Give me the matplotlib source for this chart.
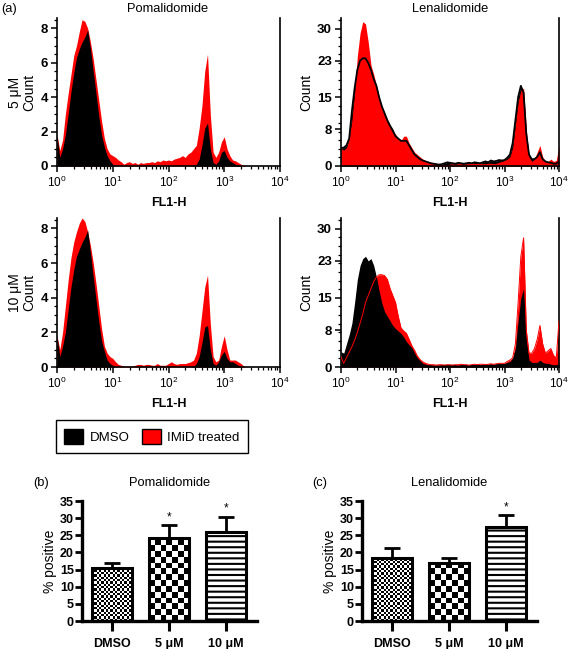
import numpy as np
import matplotlib
matplotlib.use("Agg")
import matplotlib.pyplot as plt
from matplotlib.patches import Patch
from matplotlib.ticker import LogLocator, NullFormatter, MultipleLocator, FixedLocator

plt.rcParams['font.family'] = ['Liberation Sans', 'DejaVu Sans']
plt.rcParams['hatch.linewidth'] = 1.5

# FL1-H channel positions (log10 decades 0..4)
channels = np.linspace(0, 4, 81)
fl1 = 10 ** channels

# histogram counts
poma_5_imid = [1.8, 0.9, 1.5, 3.0, 4.2, 5.3, 6.4, 7.0, 7.8, 8.5,
               8.4, 8.0, 7.2, 6.2, 5.0, 3.8, 2.6, 1.6, 1.0, 0.7,
               0.6, 0.5, 0.35, 0.25, 0.1, 0.2, 0.25, 0.15, 0.2, 0.1,
               0.2, 0.15, 0.2, 0.2, 0.25, 0.2, 0.3, 0.25, 0.35, 0.3,
               0.35, 0.3, 0.4, 0.45, 0.5, 0.6, 0.5, 0.7, 0.8, 1.0,
               1.2, 2.2, 3.5, 5.5, 6.5, 3.0, 0.8, 0.5, 0.8, 1.4,
               1.7, 1.0, 0.6, 0.35, 0.3, 0.2, 0.1, 0.05, 0, 0,
               0, 0, 0, 0, 0, 0, 0, 0, 0, 0,
               0]
poma_5_dmso = [1.8, 0.5, 1.0, 1.8, 3.0, 4.3, 5.4, 6.3, 6.8, 7.2,
               7.5, 7.9, 6.8, 5.5, 4.2, 2.9, 1.8, 1.1, 0.6, 0.3,
               0.1, 0, 0, 0, 0, 0, 0, 0, 0, 0,
               0, 0, 0, 0, 0, 0, 0, 0, 0, 0,
               0, 0, 0, 0, 0, 0, 0, 0, 0, 0.05,
               0.1, 0.4, 1.2, 2.2, 2.5, 1.0, 0.2, 0.1, 0.3, 0.8,
               0.9, 0.5, 0.3, 0.2, 0.1, 0.05, 0, 0, 0, 0,
               0, 0, 0, 0, 0, 0, 0, 0, 0, 0,
               0]
poma_10_imid = [1.8, 1.0, 2.0, 3.5, 5.0, 6.3, 7.2, 7.8, 8.3, 8.6,
                8.4, 7.8, 7.0, 6.0, 4.8, 3.5, 2.2, 1.2, 0.8, 0.6,
                0.5, 0.3, 0.15, 0.1, 0.05, 0.05, 0.05, 0.05, 0.1, 0.15,
                0.15, 0.1, 0.15, 0.15, 0.1, 0.1, 0.2, 0.1, 0.1, 0.1,
                0.2, 0.3, 0.2, 0.15, 0.2, 0.2, 0.2, 0.25, 0.3, 0.4,
                0.8, 1.8, 3.2, 4.6, 5.3, 2.5, 0.6, 0.3, 0.4, 1.2,
                1.8, 1.0, 0.4, 0.4, 0.4, 0.3, 0.2, 0.05, 0, 0,
                0, 0, 0, 0, 0, 0, 0, 0, 0, 0,
                0]
poma_10_dmso = [1.8, 0.6, 1.2, 2.0, 3.3, 4.6, 5.6, 6.4, 6.8, 7.2,
                7.5, 7.9, 6.6, 5.2, 3.9, 2.6, 1.5, 0.9, 0.4, 0.2,
                0.1, 0, 0, 0, 0, 0, 0, 0, 0, 0,
                0, 0, 0, 0, 0, 0, 0, 0, 0, 0,
                0, 0, 0, 0, 0, 0, 0, 0, 0, 0.05,
                0.2, 0.6, 1.4, 2.3, 2.4, 1.0, 0.2, 0.1, 0.3, 0.7,
                0.9, 0.5, 0.3, 0.3, 0.2, 0.1, 0, 0, 0, 0,
                0, 0, 0, 0, 0, 0, 0, 0, 0, 0,
                0]
lena_5_imid = [3.8, 3.5, 4.0, 6.0, 10, 16, 24, 29, 31.5, 31,
               27, 22, 20, 17.5, 15, 13, 11, 9.5, 8.3, 7.3,
               7.0, 6.0, 5.5, 6.5, 6.5, 5.0, 4.0, 3.0, 2.5, 2.0,
               1.5, 1.2, 1.0, 0.8, 0.5, 0.3, 0.2, 0.3, 0.3, 0.2,
               0.4, 0.5, 0.4, 0.5, 0.5, 0.4, 0.5, 0.5, 0.6, 0.5,
               0.6, 0.6, 0.5, 0.5, 0.6, 0.6, 0.5, 0.6, 0.8, 1.0,
               1.2, 1.5, 2.0, 4.0, 9.0, 14, 16.5, 17, 8.0, 2.0,
               1.0, 1.5, 3.0, 4.5, 2.0, 1.0, 1.0, 1.5, 1.0, 1.2,
               4.5]
lena_5_dmso = [4.0, 4.0, 4.5, 6.0, 12, 17, 21, 23, 23.5, 23.5,
               22.5, 21, 19, 17.5, 15, 13, 11.5, 10, 8.8, 7.8,
               6.5, 6, 5.5, 5.5, 5.5, 4.5, 3.5, 2.5, 2.0, 1.5,
               1.2, 1.0, 0.8, 0.6, 0.5, 0.4, 0.3, 0.4, 0.6, 0.8,
               0.7, 0.6, 0.5, 0.7, 0.6, 0.5, 0.6, 0.7, 0.6, 0.8,
               0.7, 0.6, 0.8, 1.0, 0.8, 1.2, 1.0, 1.1, 1.3, 1.2,
               1.3, 1.8, 2.5, 5, 10, 15, 17.5, 16, 7, 2.5,
               1.5, 1.5, 2, 3, 1.5, 1, 0.8, 0.7, 0.5, 0.5,
               1]
lena_10_imid = [2.2, 0.8, 2.0, 3.2, 4.4, 5.8, 7.5, 9.5, 11.5, 14,
                15.5, 17, 18.5, 19.5, 20, 20, 19.8, 19, 17, 15.5,
                14, 11, 8.5, 7.8, 7.3, 6, 4.6, 3.6, 2.4, 1.6,
                1.1, 0.8, 0.6, 0.5, 0.5, 0.4, 0.5, 0.5, 0.4, 0.5,
                0.5, 0.4, 0.5, 0.5, 0.6, 0.5, 0.5, 0.4, 0.5, 0.6,
                0.5, 0.6, 0.6, 0.5, 0.6, 0.7, 0.6, 0.7, 0.8, 0.8,
                0.8, 1.2, 1.5, 2, 5, 14, 24, 28, 8, 3,
                3, 4, 6, 9, 5, 3, 3.5, 4, 2.5, 2,
                10]
lena_10_dmso = [3.3, 3.0, 5, 7, 9.5, 14, 19, 22, 23.5, 24,
                23, 23.5, 22, 19.5, 16.5, 13.8, 12, 11, 10, 9,
                8.3, 7.8, 7.3, 6.5, 5.5, 4.8, 4.2, 3, 2, 1.4,
                0.8, 0.6, 0.5, 0.5, 0.4, 0.5, 0.4, 0.5, 0.6, 0.5,
                0.5, 0.6, 0.5, 0.4, 0.5, 0.6, 0.5, 0.5, 0.6, 0.5,
                0.6, 0.5, 0.6, 0.7, 0.6, 0.7, 0.6, 0.7, 0.8, 0.7,
                0.8, 1.0, 1.2, 2, 4, 10, 15, 17, 6, 1.5,
                1, 1, 1, 1.5, 1, 0.8, 0.8, 0.6, 0.5, 0.5,
                0.8]

# % positive bar data
groups = ['DMSO', '5 μM', '10 μM']
poma_mean = [15.5, 24.3, 26.0]
poma_sem = [1.5, 3.7, 4.4]
poma_sig = ['', '*', '*']
lena_mean = [18.5, 17.0, 27.5]
lena_sem = [2.7, 1.3, 3.4]
lena_sig = ['', '', '*']

W, H = 569, 649
fig = plt.figure(figsize=(W / 100, H / 100), dpi=100)


def rect(x0, y_top, x1, y_bot):
    return [x0 / W, 1 - y_bot / H, (x1 - x0) / W, (y_bot - y_top) / H]


def hist_axes(r, ymax, yticks, yminor):
    ax = fig.add_axes(r)
    ax.set_xscale('log')
    ax.set_xlim(1, 1e4)
    ax.set_ylim(0, ymax)
    ax.xaxis.set_major_locator(LogLocator(base=10, numticks=6))
    ax.xaxis.set_minor_locator(LogLocator(base=10, subs=np.arange(2, 10), numticks=10))
    ax.xaxis.set_minor_formatter(NullFormatter())
    ax.yaxis.set_major_locator(FixedLocator(yticks))
    ax.yaxis.set_minor_locator(MultipleLocator(yminor))
    ax.spines['top'].set_visible(False)
    for s in ['left', 'bottom', 'right']:
        ax.spines[s].set_linewidth(1.2)
    ax.tick_params(which='major', length=4.5, width=1.1, pad=2)
    ax.tick_params(axis='x', labelsize=8.5)
    ax.tick_params(axis='y', labelsize=9.5)
    ax.tick_params(which='minor', length=2.2, width=0.9)
    ax.tick_params(axis='y', right=False, which='both')
    for t in ax.get_yticklabels():
        t.set_fontweight('bold')
    ax.set_xlabel('FL1-H', fontsize=9, fontweight='bold', labelpad=5)
    return ax


ax_tl = hist_axes(rect(57, 18, 280, 166), 8.6, [0, 2, 4, 6, 8], 0.5)
ax_tr = hist_axes(rect(341, 18, 559, 166), 32.3, [0, 8, 15, 23, 30], 1.875)
ax_bl = hist_axes(rect(57, 218, 280, 367), 8.6, [0, 2, 4, 6, 8], 0.5)
ax_br = hist_axes(rect(341, 218, 559, 367), 32.3, [0, 8, 15, 23, 30], 1.875)

# pomalidomide: red behind, black in front
for ax, imid, dmso in [(ax_tl, poma_5_imid, poma_5_dmso), (ax_bl, poma_10_imid, poma_10_dmso)]:
    ax.fill_between(fl1, imid, color='red', lw=0, zorder=1)
    ax.fill_between(fl1, dmso, color='black', lw=0, zorder=2)

# lenalidomide 5 uM: red fill, dmso outline
ax_tr.fill_between(fl1, lena_5_dmso, color='black', lw=0, zorder=1)
ax_tr.fill_between(fl1, lena_5_imid, color='red', lw=0, zorder=2)
ax_tr.plot(fl1, lena_5_dmso, color='black', lw=1.3, zorder=3)

# lenalidomide 10 uM: black in front, thin red outline
ax_br.fill_between(fl1, lena_10_imid, color='red', lw=0, zorder=1)
ax_br.fill_between(fl1, lena_10_dmso, color='black', lw=0, zorder=2)
ax_br.plot(fl1, lena_10_imid, color='red', lw=0.7, zorder=3)

ax_tl.set_ylabel('5 μM\nCount', fontsize=10, labelpad=3, linespacing=1.0)
ax_bl.set_ylabel('10 μM\nCount', fontsize=10, labelpad=3, linespacing=1.0)
ax_tr.set_ylabel('Count', fontsize=10, labelpad=3)
ax_br.set_ylabel('Count', fontsize=10, labelpad=3)

fig.text(168 / W, 1 - 9 / H, 'Pomalidomide', ha='center', va='center', fontsize=9.3)
fig.text(450 / W, 1 - 9 / H, 'Lenalidomide', ha='center', va='center', fontsize=9.3)
fig.text(1 / W, 1 - 9 / H, '(a)', ha='left', va='center', fontsize=9.3)

leg = fig.legend(handles=[Patch(facecolor='black', edgecolor='black', label='DMSO'),
                          Patch(facecolor='red', edgecolor='black', label='IMiD treated')],
                 loc='center', bbox_to_anchor=(152 / W, 1 - 436.5 / H), ncol=2,
                 fontsize=9.5, frameon=True, fancybox=False, framealpha=1,
                 edgecolor='black', handlelength=1.45, handleheight=1.45,
                 handletextpad=0.5, columnspacing=0.9, borderpad=0.65)
leg.get_frame().set_linewidth(1.0)


def bar_axes(r, means, sems, sig, title, letter, letter_x):
    ax = fig.add_axes(r)
    x = np.arange(len(groups))
    ax.set_xlim(-0.52, 2.54)
    ax.set_ylim(0, 35)
    ax.yaxis.set_major_locator(MultipleLocator(5))
    ax.set_xticks(x)
    ax.set_xticklabels(groups, fontsize=9, fontweight='bold')
    ax.tick_params(axis='y', labelsize=9, length=5, width=2, pad=1)
    for t in ax.get_yticklabels():
        t.set_fontweight('bold')
    ax.tick_params(axis='x', length=7, width=2.2, pad=5)
    for s in ['top', 'right']:
        ax.spines[s].set_visible(False)
    for s in ['left', 'bottom']:
        ax.spines[s].set_linewidth(2.4)
    ax.set_ylabel('% positive', fontsize=10, labelpad=2)

    ax.errorbar(x, means, yerr=[[0] * len(x), sems], fmt='none', ecolor='black',
                elinewidth=2, capsize=6, capthick=2, zorder=1)
    bars = ax.bar(x, means, width=0.70, facecolor='white', edgecolor='black',
                  linewidth=2.2, zorder=3)
    bars[0].set_facecolor('none')
    bars[1].set_facecolor('none')
    bars[2].set_hatch('---')

    # checkerboard fills for DMSO (fine) and 5 uM (coarse)
    py_unit = ax.transData.transform((0, 1))[1] - ax.transData.transform((0, 0))[1]
    px_unit = ax.transData.transform((1, 0))[0] - ax.transData.transform((0, 0))[0]
    for b, cell_px in [(bars[0], 2.3), (bars[1], 5.8)]:
        bx, bw, bh = b.get_x(), b.get_width(), b.get_height()
        cx = cell_px / px_unit
        cy = cell_px / py_unit
        nc = int(np.ceil(bw / cx)) + 1
        nr = int(np.ceil(bh / cy)) + 1
        ii, jj = np.indices((nr, nc))
        pat = ((ii + jj) % 2).astype(float)
        im = ax.imshow(pat, cmap='gray', interpolation='nearest', origin='lower',
                       extent=[bx, bx + nc * cx, 0, nr * cy], aspect='auto', zorder=2)
        im.set_clip_path(b)
    ax.set_xlim(-0.52, 2.54)
    ax.set_ylim(0, 35)

    for xi, m, e, s in zip(x, means, sems, sig):
        if s:
            ax.text(xi, m + e + 0.6, s, ha='center', va='bottom', fontsize=8.5)

    cx = r[0] + r[2] / 2
    fig.text(cx, 1 - 483 / H, title, ha='center', va='center', fontsize=9.3)
    fig.text(letter_x / W, 1 - 483 / H, letter, ha='left', va='center', fontsize=9.3)
    return ax


bar_axes(rect(82.3, 501, 256.7, 621), poma_mean, poma_sem, poma_sig, 'Pomalidomide', '(b)', 33)
bar_axes(rect(362.3, 501, 536.7, 621), lena_mean, lena_sem, lena_sig, 'Lenalidomide', '(c)', 312)

fig.savefig('out.png', dpi=100)
